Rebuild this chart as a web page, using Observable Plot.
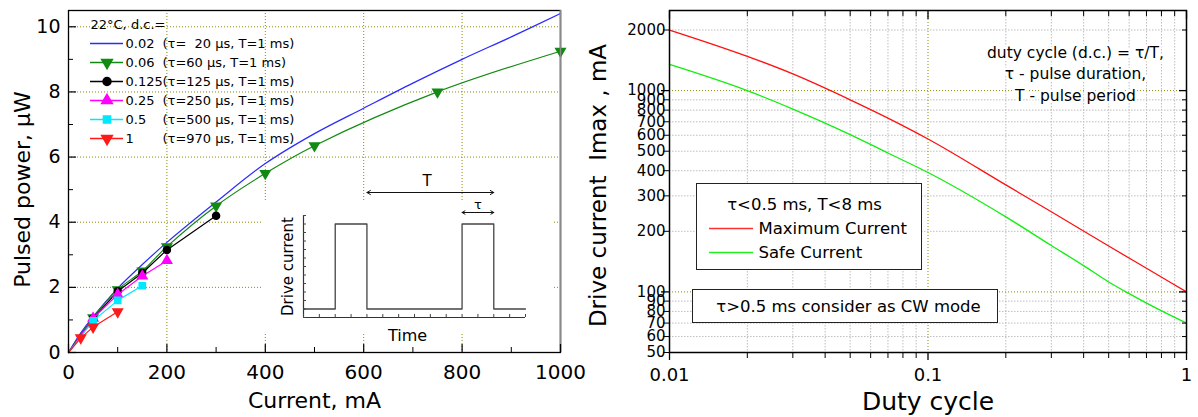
<!DOCTYPE html>
<html><head><meta charset="utf-8">
<script src="https://cdn.jsdelivr.net/npm/d3@7"></script>
<script src="https://cdn.jsdelivr.net/npm/@observablehq/plot@0.6"></script>
<style>
body{margin:0;background:#fff;}
#root{position:relative;width:1198px;height:417px;overflow:hidden;font-family:"DejaVu Sans",sans-serif;}
#root > *{position:absolute;}
</style></head><body><div id="root"></div>
<script>
// ---------- Left panel: pulsed power (µW) vs current (mA) ----------
const seriesDC     = ["0.02", "0.06", "0.125", "0.25", "0.5", "1"];
const seriesNotes  = ["(τ=  20 μs, T=1 ms)", "(τ=60 μs, T=1 ms)", "(τ=125 μs, T=1 ms)", "(τ=250 μs, T=1 ms)", "(τ=500 μs, T=1 ms)", "(τ=970 μs, T=1 ms)"];
const seriesColors = ["#2a2aff", "#138a13", "#000000", "#ff00ff", "#00e8ff", "#ff1a1a"];
const seriesSymbols = [null, "triangle", "circle", "triangle", "square", "triangle"];
const seriesRotate = [0, 180, 0, 0, 0, 180];
const seriesCurve  = ["catmull-rom", "catmull-rom", "linear", "linear", "linear", "linear"];

const current_dc002  = [0, 25, 50, 100, 150, 200, 300, 400, 500, 600, 700, 800, 900, 1000];
const power_dc002    = [0, 0.6, 1.1, 1.97, 2.7, 3.38, 4.62, 5.8, 6.72, 7.5, 8.27, 9.0, 9.69, 10.41];
const current_dc006  = [0, 50, 100, 150, 200, 300, 400, 500, 750, 1000];
const power_dc006    = [0, 1.07, 1.93, 2.5, 3.25, 4.5, 5.5, 6.35, 8.0, 9.25];
const current_dc0125 = [0, 50, 100, 150, 200, 300];
const power_dc0125   = [0, 1.05, 1.88, 2.44, 3.15, 4.2];
const current_dc025  = [0, 50, 100, 150, 200];
const power_dc025    = [0, 1.05, 1.78, 2.35, 2.82];
const current_dc05   = [0, 50, 100, 150];
const power_dc05     = [0, 0.97, 1.6, 2.05];
const current_dc1    = [0, 25, 50, 100];
const power_dc1      = [0, 0.45, 0.78, 1.25];

const currentValues = [current_dc002, current_dc006, current_dc0125, current_dc025, current_dc05, current_dc1];
const powerValues   = [power_dc002, power_dc006, power_dc0125, power_dc025, power_dc05, power_dc1];

const currentMajorTicks = [0, 200, 400, 600, 800, 1000];
const currentMinorTicks = [100, 300, 500, 700, 900];
const currentGrid = [200, 400, 600, 800];
const powerMajorTicks = [0, 2, 4, 6, 8, 10];
const powerMinorTicks = [1, 3, 5, 7, 9];
const powerGrid = [2, 4, 6, 8, 10];

// ---------- Inset: drive current waveform ----------
const waveTime    = [0, 1, 1, 2, 2, 5, 5, 6, 6, 7];
const waveCurrent = [0, 0, 1, 1, 0, 0, 1, 1, 0, 0];

// ---------- Right panel: max / safe drive current vs duty cycle ----------
const dutyMax    = [0.01, 0.02, 0.03, 0.05, 0.07, 0.1, 0.2, 0.3, 0.5, 0.7, 1];
const maxCurrent = [2000, 1480, 1210, 900, 730, 575, 340, 250, 169, 131, 100];
const dutySafe   = [0.01, 0.02, 0.03, 0.05, 0.07, 0.1, 0.2, 0.3, 0.4, 0.5, 0.6, 0.7, 1];
const safeCurrent = [1350, 1000, 810, 605, 490, 392, 236, 170, 135, 112, 98, 88, 70];

const dutyMajorTicks = [0.01, 0.1, 1];
const dutyMinorTicks = [0.02,0.03,0.04,0.05,0.06,0.07,0.08,0.09,0.2,0.3,0.4,0.5,0.6,0.7,0.8,0.9];
const imaxMajorTicks = [100, 1000];
const imaxMinorTicks = [50, 60, 70, 80, 90, 200, 300, 400, 500, 600, 700, 800, 900, 2000];
const imaxTickLabels = [50, 60, 70, 80, 90, 100, 200, 300, 400, 500, 600, 700, 800, 900, 1000, 2000];
const rightLegendNames = ["Maximum Current", "Safe Current"];
const rightLegendColors = ["#ff3030", "#22ee22"];

const OLIVE = "#8c8c00";
const FONT = "DejaVu Sans";
const baseStyle = {background: "transparent", fontFamily: FONT, color: "black", overflow: "visible"};
const root = document.getElementById("root");
function place(el, left, top) { el.style.left = left + "px"; el.style.top = top + "px"; root.appendChild(el); return el; }

// ---------------- LEFT PLOT ----------------
const seriesMarks = [];
seriesDC.forEach((dc, i) => {
  const pts = currentValues[i].map((c, j) => ({current: c, power: powerValues[i][j]}));
  seriesMarks.push(Plot.line(pts, {x: "current", y: "power", stroke: seriesColors[i], strokeWidth: 1.2, curve: seriesCurve[i]}));
  if (seriesSymbols[i]) {
    seriesMarks.push(Plot.dot(pts.filter(d => d.current > 0), {x: "current", y: "power", symbol: seriesSymbols[i], fill: seriesColors[i], stroke: seriesColors[i], r: 3.5, rotate: seriesRotate[i]}));
  }
});

const left = Plot.plot({
  width: 590, height: 417, marginLeft: 68, marginRight: 30, marginTop: 10, marginBottom: 65,
  x: {domain: [0, 1000], label: null},
  y: {domain: [0, 10.5], label: null},
  style: baseStyle,
  marks: [
    Plot.gridX(currentGrid, {stroke: OLIVE, strokeOpacity: 1, strokeDasharray: "1,2"}),
    Plot.gridY(powerGrid, {stroke: OLIVE, strokeOpacity: 1, strokeDasharray: "1,2"}),
    ...seriesMarks,
    Plot.frame({stroke: "black", strokeWidth: 1.3}),
    Plot.ruleX([1000], {stroke: "#8a8a8a", strokeWidth: 1.8}),
    Plot.axisX(currentMajorTicks, {tickSize: -8, fill: "none", label: null, strokeWidth: 1.2}),
    Plot.axisX(currentMinorTicks, {tickSize: -5, fill: "none", label: null}),
    Plot.axisX(currentMajorTicks, {tickSize: 0, tickPadding: 12, fontSize: 20, label: null, tickFormat: d => String(d)}),
    Plot.axisY(powerMajorTicks, {tickSize: -8, fill: "none", label: null, strokeWidth: 1.2}),
    Plot.axisY(powerMinorTicks, {tickSize: -5, fill: "none", label: null}),
    Plot.axisY(powerMajorTicks, {tickSize: 0, tickPadding: 8, fontSize: 19, label: null, tickFormat: d => String(d)}),
    Plot.text(["Pulsed power, μW"], {frameAnchor: "left", textAnchor: "middle", dx: -46, dy: 8, rotate: -90, fontSize: 22}),
    Plot.text(["Current, mA"], {frameAnchor: "bottom", dy: 48, lineAnchor: "middle", fontSize: 22})
  ]
});
place(left, 0, 0);

// ---------------- RIGHT PLOT ----------------
const maxRows = dutyMax.map((d, i) => ({duty: d, current: maxCurrent[i]}));
const safeRows = dutySafe.map((d, i) => ({duty: d, current: safeCurrent[i]}));
const right = Plot.plot({
  width: 608, height: 417, marginLeft: 79, marginRight: 12, marginTop: 10, marginBottom: 65,
  x: {type: "log", domain: [0.01, 1], label: null},
  y: {type: "log", domain: [50, 2500], label: null},
  style: baseStyle,
  marks: [
    Plot.gridX(dutyMinorTicks, {stroke: "#bdbdbd", strokeOpacity: 1, strokeDasharray: "1.5,1.5"}),
    Plot.gridY(imaxMinorTicks.filter(v => v !== 50), {stroke: "#bdbdbd", strokeOpacity: 1, strokeDasharray: "1.5,1.5"}),
    Plot.gridX([0.1], {stroke: OLIVE, strokeOpacity: 1, strokeDasharray: "1,2"}),
    Plot.gridY(imaxMajorTicks, {stroke: OLIVE, strokeOpacity: 1, strokeDasharray: "1,2"}),
    Plot.line(maxRows, {x: "duty", y: "current", stroke: "#ff1010", strokeWidth: 1.3, curve: "monotone-x"}),
    Plot.line(safeRows, {x: "duty", y: "current", stroke: "#11ee11", strokeWidth: 1.3, curve: "monotone-x"}),
    Plot.text(["duty cycle (d.c.) = τ/T,\nτ - pulse duration,\nT - pulse period"], {frameAnchor: "top-right", dx: -111, dy: 62, lineAnchor: "middle", textAnchor: "middle", fontSize: 15.5, lineHeight: 1.38, stroke: "white", strokeWidth: 5, fill: "black"}),
    Plot.frame({stroke: "black", strokeWidth: 1.5}),
    Plot.axisX(dutyMajorTicks, {tickSize: 8, fill: "none", label: null, strokeWidth: 1.3}),
    Plot.axisX(dutyMinorTicks, {tickSize: 6, fill: "none", label: null}),
    Plot.axisX(dutyMajorTicks, {anchor: "top", tickSize: -8, fill: "none", label: null, strokeWidth: 1.3}),
    Plot.axisX(dutyMinorTicks, {anchor: "top", tickSize: -5, fill: "none", label: null}),
    Plot.axisX(dutyMajorTicks, {tickSize: 0, tickPadding: 16, fontSize: 18, label: null, tickFormat: d => String(d)}),
    Plot.axisY(imaxMajorTicks, {tickSize: 8, fill: "none", label: null, strokeWidth: 1.3}),
    Plot.axisY(imaxMinorTicks, {tickSize: 6, fill: "none", label: null}),
    Plot.axisY(imaxMajorTicks, {anchor: "right", tickSize: -8, fill: "none", label: null, strokeWidth: 1.3}),
    Plot.axisY(imaxMinorTicks, {anchor: "right", tickSize: -5, fill: "none", label: null}),
    Plot.text(imaxTickLabels, {y: d => d, text: d => String(d), frameAnchor: "left", textAnchor: "end", dx: -4, fontSize: 15}),
    Plot.text(["Drive current  Imax , mA"], {frameAnchor: "left", textAnchor: "middle", dx: -71, dy: 4, rotate: -90, fontSize: 23}),
    Plot.text(["Duty cycle"], {frameAnchor: "bottom", dy: 49, lineAnchor: "middle", fontSize: 25})
  ]
});
place(right, 590, 0);

// ---------------- INSET ----------------
const insetBg = document.createElement("div");
insetBg.style.cssText = "width:290px;height:132px;background:white;";
place(insetBg, 263, 202);

const waveRows = waveTime.map((t, i) => ({t, c: waveCurrent[i]}));
const pulseEnds = [waveTime[3], waveTime[7]];           // falling edges
const tauSpan = [waveTime[5], waveTime[7]];             // second pulse
const midT = (pulseEnds[0] + pulseEnds[1]) / 2;
const midTau = (tauSpan[0] + tauSpan[1]) / 2;
const yTop = 1.1;
const inset = Plot.plot({
  width: 290, height: 180, marginLeft: 40, marginRight: 28, marginTop: 45, marginBottom: 33,
  x: {domain: [0, 7], label: null},
  y: {domain: [-0.1, yTop], label: null},
  style: baseStyle,
  marks: [
    Plot.ruleY([-0.1], {stroke: "#333", strokeWidth: 1.2}),
    Plot.ruleX([0], {stroke: "#333", strokeWidth: 1.2}),
    Plot.axisY(d3.range(0, 13).map(i => -0.1 + i * 0.1), {tickSize: -3, fill: "none", label: null, stroke: "#444"}),
    Plot.axisX(d3.range(0, 15).map(i => i * 0.5), {tickSize: -3, fill: "none", label: null, stroke: "#444"}),
    Plot.line(waveRows, {x: "t", y: "c", stroke: "#444", strokeWidth: 1.3}),
    Plot.arrow([{a: midT, b: pulseEnds[0]}, {a: midT, b: pulseEnds[1]}], {x1: "a", x2: "b", y1: yTop, y2: yTop, dy: -23, headLength: 6, stroke: "#111", strokeWidth: 1}),
    Plot.arrow([{a: midTau, b: tauSpan[0]}, {a: midTau, b: tauSpan[1]}], {x1: "a", x2: "b", y1: yTop, y2: yTop, dy: -3, headLength: 5, stroke: "#111", strokeWidth: 1}),
    Plot.text(["T"], {x: midT - 0.1, y: yTop, dy: -34, fontSize: 15}),
    Plot.text(["τ"], {x: midTau, y: yTop, dy: -11, fontSize: 13}),
    Plot.text(["Drive current"], {frameAnchor: "left", textAnchor: "middle", dx: -15, rotate: -90, fontSize: 15}),
    Plot.text(["Time"], {frameAnchor: "bottom", dx: -7, dy: 18, lineAnchor: "middle", fontSize: 16})
  ]
});
place(inset, 263, 170);

// ---------------- LEFT LEGEND ----------------
const legendRows = seriesDC.map((dc, i) => ({dc, note: seriesNotes[i], color: seriesColors[i], symbol: seriesSymbols[i], rotate: seriesRotate[i]}));
const legend = Plot.plot({
  width: 300, height: 160, marginLeft: 90, marginRight: 177, marginTop: 24, marginBottom: 22,
  y: {type: "point", domain: ["hdr", ...seriesDC], axis: null, padding: 0},
  style: baseStyle,
  marks: [
    Plot.text([{dc: "hdr", label: "22°C, d.c.="}], {y: "dc", text: "label", frameAnchor: "left", textAnchor: "start", fontSize: 13}),
    Plot.tickY(legendRows, {y: "dc", stroke: "color", strokeWidth: 1.3}),
    Plot.dot(legendRows.filter(d => d.symbol), {y: "dc", symbol: "symbol", fill: "color", stroke: "color", rotate: "rotate", r: 4}),
    Plot.text(legendRows, {y: "dc", text: "dc", frameAnchor: "right", textAnchor: "start", dx: 2, fontSize: 13}),
    Plot.text(legendRows, {y: "dc", text: "note", frameAnchor: "right", textAnchor: "start", dx: 39, fontSize: 13})
  ]
});
place(legend, 0, 0);

// ---------------- RIGHT LEGEND BOX ----------------
const boxRows = rightLegendNames.map((n, i) => ({name: n, color: rightLegendColors[i]}));
const box = Plot.plot({
  width: 224, height: 85, marginLeft: 12, marginRight: 168, marginTop: 19, marginBottom: 17,
  y: {type: "point", domain: ["hdr", ...rightLegendNames], axis: null, padding: 0},
  style: {...baseStyle, background: "white", border: "1.3px solid #222"},
  marks: [
    Plot.text([{name: "hdr", label: "τ<0.5 ms, T<8 ms"}], {y: "name", text: "label", frameAnchor: "left", textAnchor: "middle", dx: 95, fontSize: 16.5}),
    Plot.tickY(boxRows, {y: "name", stroke: "color", strokeWidth: 1.3}),
    Plot.text(boxRows, {y: "name", text: "name", frameAnchor: "right", textAnchor: "start", dx: 5, fontSize: 16.5})
  ]
});
place(box, 696, 183);

const cwBox = Plot.plot({
  width: 304, height: 32, margin: 0,
  style: {...baseStyle, background: "white", border: "1.3px solid #222"},
  marks: [Plot.text(["τ>0.5 ms consider as CW mode"], {frameAnchor: "middle", dx: 3, fontSize: 16.5})]
});
place(cwBox, 692, 289);
</script></body></html>
